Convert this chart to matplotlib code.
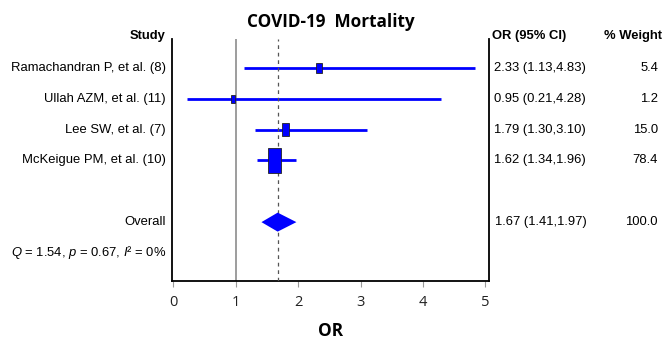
import matplotlib
matplotlib.use('Agg')
import matplotlib.pyplot as plt
import matplotlib.transforms as mtransforms
from matplotlib.patches import Rectangle, Polygon

studies = ['Ramachandran P, et al. (8)', 'Ullah AZM, et al. (11)',
           'Lee SW, et al. (7)', 'McKeigue PM, et al. (10)']
or_vals = [2.33, 0.95, 1.79, 1.62]
ci_low = [1.13, 0.21, 1.30, 1.34]
ci_high = [4.83, 4.28, 3.10, 1.96]
weights = [5.4, 1.2, 15.0, 78.4]

overall_or = 1.67
overall_low = 1.41
overall_high = 1.97
overall_weight = 100.0

q_stat = 1.54
p_val = 0.67
i2 = 0

xticks = [0, 1, 2, 3, 4, 5]

plt.rcParams['font.family'] = ['Liberation Sans', 'DejaVu Sans']
plt.rcParams['mathtext.fontset'] = 'custom'
plt.rcParams['mathtext.rm'] = 'Liberation Sans'
plt.rcParams['mathtext.it'] = 'Liberation Sans:italic'

fig = plt.figure(figsize=(6.65, 3.41), dpi=100)
ax = fig.add_axes([0.2586, 0.176, 0.4767, 0.7094])

xmin, xmax = -0.024, 5.056
ymin, ymax = 6.91, -0.94
ax.set_xlim(xmin, xmax)
ax.set_ylim(ymin, ymax)

# pixels per data unit, used to size the boxes in screen terms
px_x = 0.4767 * 665 / (xmax - xmin)
px_y = 0.7094 * 341 / (ymin - ymax)

blue = '#0000ff'
fs = 9.4
rows = list(range(len(studies)))
overall_row = 5
stats_row = 6

ax.axvline(1, color='#8c8c8c', lw=1.2, zorder=1)
ax.axvline(overall_or, color='#555555', lw=0.9, ls=(0, (3, 3)), zorder=4)

for y, est, lo, hi, w in zip(rows, or_vals, ci_low, ci_high, weights):
    ax.plot([lo, hi], [y, y], color=blue, lw=2, zorder=2, solid_capstyle='butt')
    h_px = 6 + 19 * (w / max(weights)) ** 0.6
    w_px = h_px * 0.55
    bw = w_px / px_x
    bh = h_px / px_y
    ax.add_patch(Rectangle((est - bw / 2, y - bh / 2), bw, bh,
                           facecolor=blue, edgecolor='#222222', lw=0.6, zorder=5))

dh = 19 / px_y
ax.add_patch(Polygon([(overall_low, overall_row), (overall_or, overall_row - dh / 2),
                      (overall_high, overall_row), (overall_or, overall_row + dh / 2)],
                     closed=True, facecolor=blue, edgecolor='none', zorder=5))

ax.spines['top'].set_visible(False)
for s in ['left', 'right', 'bottom']:
    ax.spines[s].set_linewidth(1.3)
    ax.spines[s].set_color('black')

ax.set_yticks([])
ax.set_xticks(xticks)
ax.tick_params(axis='x', length=4, width=0.8, color='#999999', pad=6,
               labelsize=10.5, labelcolor='#222222')
for lab in ax.get_xticklabels():
    lab.set_fontfamily('Open Sans')

ax.set_xlabel('OR', fontsize=12.5, fontweight='bold', fontfamily='Open Sans', labelpad=9)
ax.set_title('COVID-19  Mortality', fontsize=12.3, fontweight='bold',
             fontfamily='Open Sans', pad=9)

trans = mtransforms.blended_transform_factory(ax.transAxes, ax.transData)
left_x = -0.019
or_x = 1.016
wt_x = 1.533

ax.text(left_x, -1.05, 'Study', transform=trans, ha='right', va='center',
        fontsize=fs, fontweight='bold')
ax.text(or_x - 0.005, -1.05, 'OR (95% CI)', transform=trans, ha='left', va='center',
        fontsize=fs, fontweight='bold')
ax.text(wt_x + 0.013, -1.05, '% Weight', transform=trans, ha='right', va='center',
        fontsize=fs, fontweight='bold')

for y, name, est, lo, hi, w in zip(rows, studies, or_vals, ci_low, ci_high, weights):
    ax.text(left_x, y, name, transform=trans, ha='right', va='center', fontsize=fs)
    ax.text(or_x, y, f'{est:.2f} ({lo:.2f},{hi:.2f})', transform=trans,
            ha='left', va='center', fontsize=fs)
    ax.text(wt_x, y, f'{w:.1f}', transform=trans, ha='right', va='center', fontsize=fs)

ax.text(left_x, overall_row, 'Overall', transform=trans, ha='right', va='center', fontsize=fs)
ax.text(or_x + 0.003, overall_row,
        f'{overall_or:.2f} ({overall_low:.2f},{overall_high:.2f})',
        transform=trans, ha='left', va='center', fontsize=fs)
ax.text(wt_x, overall_row, f'{overall_weight:.1f}', transform=trans,
        ha='right', va='center', fontsize=fs)

ax.text(left_x, stats_row, f'$Q$ = {q_stat:.2f}, $p$ = {p_val:.2f}, $I$\u00b2 = {i2}%',
        transform=trans, ha='right', va='center', fontsize=fs)

fig.savefig('out.png', dpi=100)
